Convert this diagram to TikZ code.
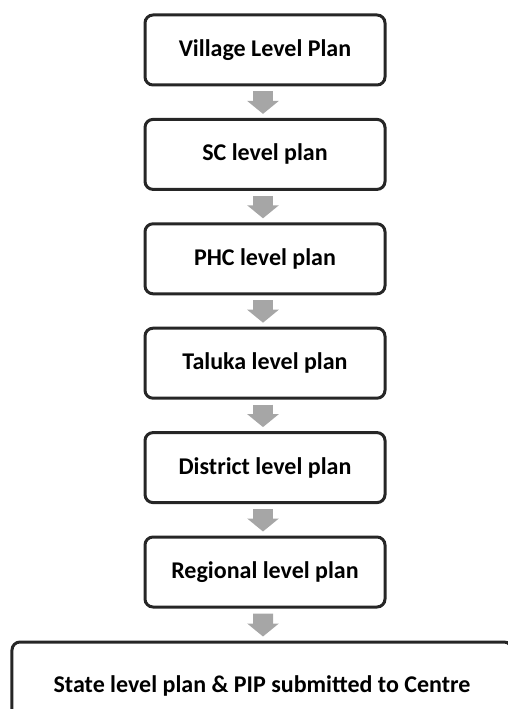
\documentclass[tikz,border=0pt]{standalone}
\usepackage{fontspec}
\setmainfont{Carlito}
\usetikzlibrary{arrows.meta}

\tikzset{
    planbox/.style={draw=boxline, line width=3bp, rounded corners=8bp,
        minimum width=240bp, minimum height=70bp, font=\bfseries\fontsize{24bp}{28bp}\selectfont},
    flow/.style={draw=flowgray, line width=20bp,
        -{Triangle[width=31bp,length=13bp,fill=flowgray]}}
}
\definecolor{boxline}{HTML}{262626}
\definecolor{flowgray}{HTML}{A6A6A6}

\begin{document}
\begin{tikzpicture}[x=1bp,y=-1bp]
        \clip (0,0) rectangle (508,709);

        % 各级计划
        \node[planbox] (village) at (265,50) {Village Level Plan};
        \node[planbox] (sc) at (265,154.4) {SC level plan};
        \node[planbox] (phc) at (265,258.8) {PHC level plan};
        \node[planbox] (taluka) at (265,363.2) {Taluka level plan};
        \node[planbox] (district) at (265,467.6) {District level plan};
        \node[planbox] (regional) at (265,572) {Regional level plan};
        \node[planbox, minimum width=500bp, minimum height=88bp] (state) at (262,686)
            {State level plan \& PIP submitted to Centre};

        % 灰色箭头
        \draw[flow] ([xshift=-2bp,yshift=-5bp]village.south) -- ([xshift=-2bp,yshift=4bp]sc.north);
        \draw[flow] ([xshift=-2bp,yshift=-5bp]sc.south) -- ([xshift=-2bp,yshift=4bp]phc.north);
        \draw[flow] ([xshift=-2bp,yshift=-5bp]phc.south) -- ([xshift=-2bp,yshift=4bp]taluka.north);
        \draw[flow] ([xshift=-2bp,yshift=-5bp]taluka.south) -- ([xshift=-2bp,yshift=4bp]district.north);
        \draw[flow] ([xshift=-2bp,yshift=-5bp]district.south) -- ([xshift=-2bp,yshift=4bp]regional.north);
        \draw[flow] ([xshift=-2bp,yshift=-5bp]regional.south) -- ([xshift=1bp,yshift=4bp]state.north);
    \end{tikzpicture}
\end{document}
